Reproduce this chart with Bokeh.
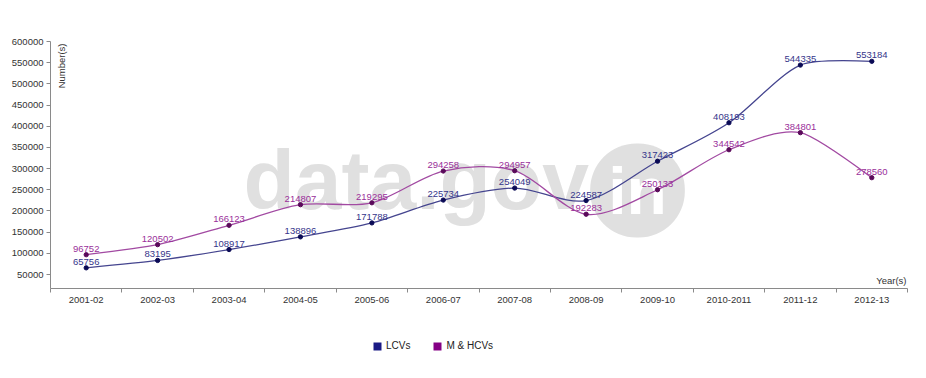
import numpy as np
from bokeh.plotting import figure
from bokeh.layouts import column
from bokeh.models import (ColumnDataSource, FixedTicker, Label, Legend, LegendItem,
                          BasicTickFormatter, Range1d)
from bokeh.embed import file_html
from bokeh.resources import INLINE
from bokeh.core.properties import value

years = ["2001-02", "2002-03", "2003-04", "2004-05", "2005-06", "2006-07",
         "2007-08", "2008-09", "2009-10", "2010-2011", "2011-12", "2012-13"]
lcvs = [65756, 83195, 108917, 138896, 171788, 225734, 254049, 224587,
        317423, 408193, 544335, 553184]
mhcvs = [96752, 120502, 166123, 214807, 219295, 294258, 294957, 192283,
         250133, 344542, 384801, 278560]
y_ticks = [50000, 100000, 150000, 200000, 250000, 300000, 350000, 400000,
           450000, 500000, 550000, 600000]
series_names = ["LCVs", "M & HCVs"]

FONT = "Liberation Sans"
LCV_LINE, LCV_DOT, LCV_TXT, LCV_KEY = "#45458f", "#0a0a55", "#35358a", "#1a1a85"
MH_LINE, MH_DOT, MH_TXT, MH_KEY = "#a24aa2", "#5a0a5a", "#9a2f9a", "#850085"

xs = np.arange(len(years)) + 0.5


def cardinal_segments(x, y, tension=0.7):
    """d3-v3 style cardinal spline, returned as cubic bezier segments."""
    p = np.column_stack([x, y]).astype(float)
    n = len(p)
    a = (1 - tension) / 2
    t = np.zeros_like(p)
    for i in range(1, n - 1):
        t[i] = a * (p[i + 1] - p[i - 1])
    segs = []
    q = p[1] - t[1] * 2 / 3
    segs.append((p[0], p[0] + 2 / 3 * (q - p[0]), p[1] + 2 / 3 * (q - p[1]), p[1]))
    for i in range(1, n - 2):
        segs.append((p[i], p[i] + t[i], p[i + 1] - t[i + 1], p[i + 1]))
    q = p[n - 2] + t[n - 2] * 2 / 3
    segs.append((p[n - 2], p[n - 2] + 2 / 3 * (q - p[n - 2]),
                 p[n - 1] + 2 / 3 * (q - p[n - 1]), p[n - 1]))
    s = np.array(segs)
    return dict(x0=s[:, 0, 0], y0=s[:, 0, 1], cx0=s[:, 1, 0], cy0=s[:, 1, 1],
                cx1=s[:, 2, 0], cy1=s[:, 2, 1], x1=s[:, 3, 0], y1=s[:, 3, 1])


p = figure(width=918, height=320, output_backend="svg", toolbar_location=None,
           x_range=Range1d(0, len(years)), y_range=Range1d(17000, 600000),
           min_border_left=50, min_border_right=11, min_border_top=41,
           min_border_bottom=32)
p.outline_line_color = None
p.xgrid.visible = False
p.ygrid.visible = False
p.background_fill_color = "white"
p.border_fill_color = "white"

# axes
p.xaxis.ticker = FixedTicker(ticks=list(xs), minor_ticks=list(range(len(years) + 1)))
p.xaxis.major_label_overrides = {float(v): yr for v, yr in zip(xs, years)}
p.xaxis.major_tick_out = 0
p.xaxis.major_tick_in = 0
p.xaxis.minor_tick_out = 4
p.xaxis.minor_tick_in = 0
p.yaxis.ticker = FixedTicker(ticks=y_ticks)
p.yaxis.formatter = BasicTickFormatter(use_scientific=False)
p.yaxis.major_tick_out = 4
p.yaxis.major_tick_in = 0
p.yaxis.major_label_standoff = 3
p.xaxis.major_label_standoff = 4
for ax in (p.xaxis, p.yaxis):
    ax.axis_line_color = "#8a8a8a"
    ax.major_tick_line_color = "#8a8a8a"
    ax.minor_tick_line_color = "#8a8a8a"
    ax.major_label_text_font = FONT
    ax.major_label_text_font_size = "9.5px"
    ax.major_label_text_color = "#333333"
p.yaxis.minor_tick_line_color = None

# watermark
wm = Label(x=193, y=109, x_units="screen", y_units="screen", text="data.gov",
           text_font=FONT, text_font_size="84px", text_font_style="bold",
           text_color="#e0e0e0", text_baseline="alphabetic", level="underlay")
p.add_layout(wm)
wm2 = Label(x=587, y=98, x_units="screen", y_units="screen", text="in",
            text_font=FONT, text_font_size="66px", text_font_style="bold",
            text_color="white", text_align="center", text_baseline="middle",
            background_fill_color="#e0e0e0", border_radius=46,
            padding=dict(left=18, right=18, top=10, bottom=10), level="underlay")
p.add_layout(wm2)

# curves, points, labels
for vals, lc, dc, tc in [(lcvs, LCV_LINE, LCV_DOT, LCV_TXT), (mhcvs, MH_LINE, MH_DOT, MH_TXT)]:
    seg = ColumnDataSource(cardinal_segments(xs, vals))
    p.bezier(x0="x0", y0="y0", x1="x1", y1="y1", cx0="cx0", cy0="cy0",
             cx1="cx1", cy1="cy1", source=seg, line_color=lc, line_width=1.3)
    src = ColumnDataSource(dict(x=xs, y=vals, lab=[str(v) for v in vals]))
    p.scatter(x="x", y="y", source=src, size=4.3, fill_color=dc, line_color=dc)
    p.text(x="x", y="y", text="lab", source=src, text_align="center",
           text_baseline="bottom", y_offset=-3, text_font=value(FONT),
           text_font_size="9.5px", text_color=tc)

# axis titles
p.add_layout(Label(x=5, y=245, x_units="screen", y_units="screen", text="Number(s)",
                   angle=np.pi / 2, text_align="right", text_baseline="top",
                   text_font=FONT, text_font_size="9.5px", text_color="#333333"))
p.add_layout(Label(x=856, y=3, x_units="screen", y_units="screen", text="Year(s)",
                   text_align="right", text_baseline="bottom",
                   text_font=FONT, text_font_size="9.5px", text_color="#333333"))

# legend strip below the chart
lf = figure(width=918, height=50, output_backend="svg", toolbar_location=None,
            x_range=Range1d(0, 1), y_range=Range1d(0, 1),
            min_border=0, x_axis_location=None, y_axis_location=None)
lf.outline_line_color = None
lf.xgrid.visible = False
lf.ygrid.visible = False
nan = [float("nan")]
k1 = lf.quad(left=nan, right=nan, top=nan, bottom=nan, fill_color=LCV_KEY, line_color=None)
k2 = lf.quad(left=nan, right=nan, top=nan, bottom=nan, fill_color=MH_KEY, line_color=None)
legend = Legend(items=[LegendItem(label=series_names[0], renderers=[k1]),
                       LegendItem(label=series_names[1], renderers=[k2])],
                location=(322, 19), orientation="horizontal",
                border_line_color=None, background_fill_alpha=0, padding=0,
                margin=0, spacing=22, glyph_width=10, glyph_height=10,
                label_standoff=4, label_text_font=FONT, label_text_font_size="10px",
                label_text_color="#222222")
lf.add_layout(legend)

open("out.html", "w").write(file_html(column(p, lf, spacing=0), INLINE))
